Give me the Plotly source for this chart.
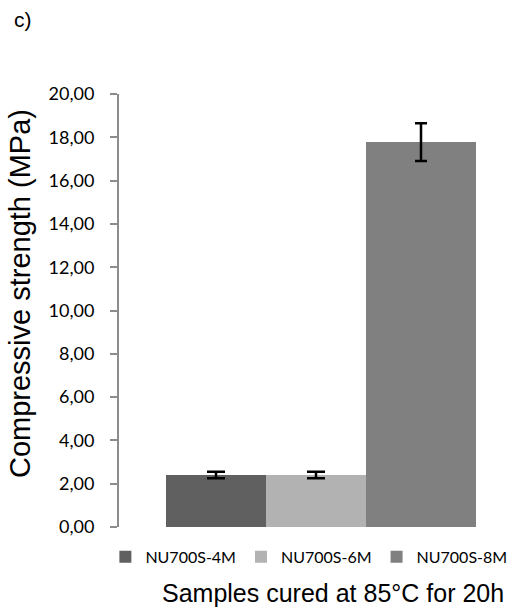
import plotly.graph_objects as go

# Data
samples = ["NU700S-4M", "NU700S-6M", "NU700S-8M"]
strength = [2.40, 2.40, 17.78]
strength_err = [0.15, 0.15, 0.87]
bar_colors = ["#606060", "#b2b2b2", "#808080"]
bar_widths = [1.0, 1.0, 1.1]
cap_widths = [9, 9, 6]
y_ticks = [0, 2, 4, 6, 8, 10, 12, 14, 16, 18, 20]

W, H = 523, 609
ML, MR, MT, MB = 119, 0, 94, 82

fig = go.Figure()
for i, name in enumerate(samples):
    fig.add_trace(go.Bar(
        x=[i], y=[strength[i]], name=name,
        width=[bar_widths[i]], offset=[-0.5],
        marker=dict(color=bar_colors[i], line=dict(width=0)),
        error_y=dict(type="data", array=[strength_err[i]], visible=True,
                     color="#000000", thickness=2.5, width=cap_widths[i]),
    ))

fig.update_layout(
    width=W, height=H,
    margin=dict(l=ML, r=MR, t=MT, b=MB, autoexpand=False),
    paper_bgcolor="white", plot_bgcolor="white",
    barmode="overlay",
    separators=",.",
    showlegend=True,
    legend=dict(orientation="h", x=0.47, xanchor="center",
                y=-0.069, yanchor="middle",
                font=dict(family="Lato", size=16, color="#000000"),
                itemwidth=30, traceorder="normal"),
    font=dict(family="Liberation Sans", color="#000000"),
)

fig.update_xaxes(range=[-0.97, 3.07], showticklabels=False, showline=False,
                 showgrid=False, zeroline=False, ticks="")
fig.update_yaxes(range=[0, 20], tickvals=y_ticks, tickformat=".2f",
                 showline=True, linecolor="#8c8c8c", linewidth=2,
                 ticks="outside", ticklen=7, tickwidth=2, tickcolor="#8c8c8c",
                 showgrid=False, zeroline=False,
                 tickfont=dict(family="Lato", size=18, color="#000000"),
                 ticklabelstandoff=12)

fig.add_annotation(text="Compressive strength (MPa)", xref="paper", yref="paper",
                   x=-0.245, y=0.538, xanchor="center", yanchor="middle", textangle=-90,
                   showarrow=False, font=dict(family="Liberation Sans", size=29, color="#000000"))
fig.add_annotation(text="Samples cured at 85°C for 20h", xref="paper", yref="paper",
                   x=0.53, y=-0.153, xanchor="center", yanchor="middle",
                   showarrow=False, font=dict(family="Liberation Sans", size=25, color="#000000"))
fig.add_annotation(text="c)", xref="paper", yref="paper",
                   x=-0.265, y=1.171, xanchor="left", yanchor="middle",
                   showarrow=False, font=dict(family="Liberation Sans", size=21, color="#000000"))

fig.write_html("out.html")
